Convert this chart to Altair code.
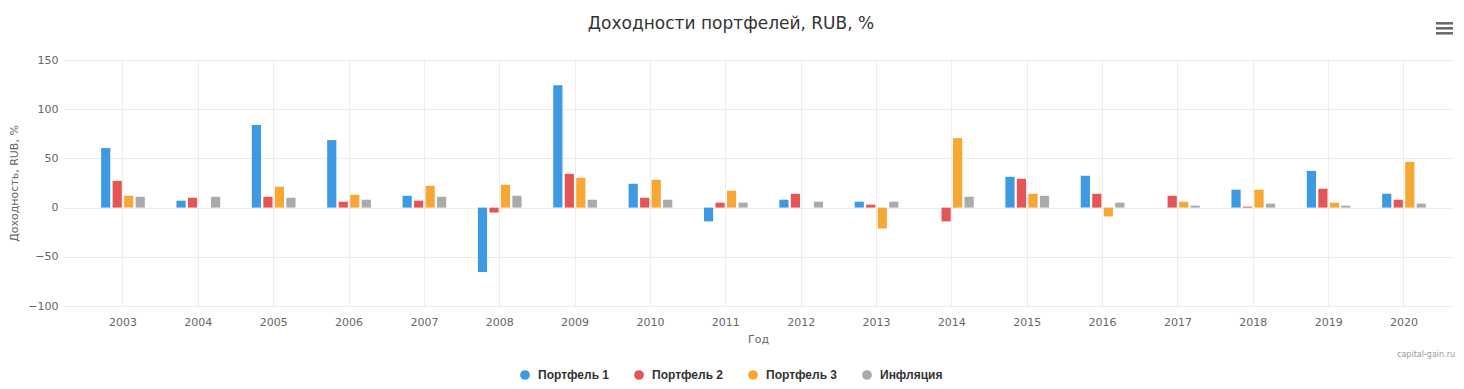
import altair as alt
import pandas as pd

years = [str(y) for y in range(2003, 2021)]
series = ["Портфель 1", "Портфель 2", "Портфель 3", "Инфляция"]
colors = ["#3d9ae2", "#e45656", "#f7a733", "#aaaaaa"]

p1 = [60.5, 7, 84, 68.6, 12, -65.5, 124.3, 24.2, -14, 8, 6, None, 31.3, 32.3, None, 18.2, 37.3, 14.1]
p2 = [27.2, 10, 11, 6, 7, -5, 34.3, 10, 5, 14, 3, -14, 29.3, 14, 12, 1, 19.2, 8]
p3 = [12, None, 21.2, 13, 22.2, 23.2, 30.3, 28.3, 17.2, None, -21.2, 70.6, 14, -9, 6, 18.2, 5, 46.4]
infl = [11, 11, 10, 8, 11, 12, 8, 8, 5, 6, 6, 11, 12, 5, 2, 4, 2, 4]

rows = []
for name, vals in zip(series, [p1, p2, p3, infl]):
    for y, v in zip(years, vals):
        rows.append({"Год": y, "Серия": name, "Значение": v})
df = pd.DataFrame(rows)

FONT = "DejaVu Sans"

bars = alt.Chart(df).mark_bar().encode(
    x=alt.X("Год:N", sort=years,
            scale=alt.Scale(paddingInner=0.42, paddingOuter=0.433, align=0.584),
            axis=alt.Axis(title="Год", labelAngle=0, grid=True, bandPosition=0.5,
                          ticks=False, domain=False, labelPadding=10,
                          titlePadding=6, gridColor="#ececec",
                          labelFont=FONT, labelFontSize=11, labelColor="#666666",
                          titleFont=FONT, titleFontSize=11, titleColor="#666666",
                          titleFontWeight="normal")),
    xOffset=alt.XOffset("Серия:N", sort=series,
                        scale=alt.Scale(domain=series, paddingInner=0.2, paddingOuter=0)),
    y=alt.Y("Значение:Q",
            scale=alt.Scale(domain=[-100, 150], nice=False),
            axis=alt.Axis(title="Доходность, RUB, %", values=[-100, -50, 0, 50, 100, 150],
                          ticks=False, domain=False, labelPadding=5, titlePadding=8,
                          gridColor="#ececec",
                          labelFont=FONT, labelFontSize=11, labelColor="#666666",
                          titleFont=FONT, titleFontSize=11, titleColor="#666666",
                          titleFontWeight="normal")),
    color=alt.Color("Серия:N", sort=series,
                    scale=alt.Scale(domain=series, range=colors),
                    legend=alt.Legend(title=None, orient="none", direction="horizontal",
                                      legendX=456, legendY=309,
                                      symbolType="circle", symbolSize=95,
                                      symbolStrokeWidth=0, labelOffset=7,
                                      columnPadding=23,
                                      labelFont="Liberation Sans", labelFontSize=12,
                                      labelFontWeight="bold", labelColor="#333333")),
)

title = alt.Chart(pd.DataFrame({"t": ["Доходности портфелей, RUB, %"]})).mark_text(
    align="center", baseline="middle", font=FONT, fontSize=17, color="#333333"
).encode(text="t:N", x=alt.value(668), y=alt.value(-36))

credit = alt.Chart(pd.DataFrame({"t": ["capital-gain.ru"]})).mark_text(
    align="right", baseline="middle", font=FONT, fontSize=8, color="#999999"
).encode(text="t:N", x=alt.value(1392), y=alt.value(295))

menu_df = pd.DataFrame({"k": [0]})
menu = [
    alt.Chart(menu_df).mark_rule(color="#666666", strokeWidth=2.5).encode(
        x=alt.value(1373), x2=alt.value(1390), y=alt.value(yy))
    for yy in [-36.7, -31.7, -26.7]
]

chart = alt.layer(bars, title, credit, *menu).properties(
    width=1390, height=246,
    autosize=alt.AutoSizeParams(type="none"),
    padding={"left": 55, "top": 52, "right": 3, "bottom": 81},
).configure_view(strokeWidth=0)

chart.save("out.html", embed_options={"renderer": "svg", "actions": False})
